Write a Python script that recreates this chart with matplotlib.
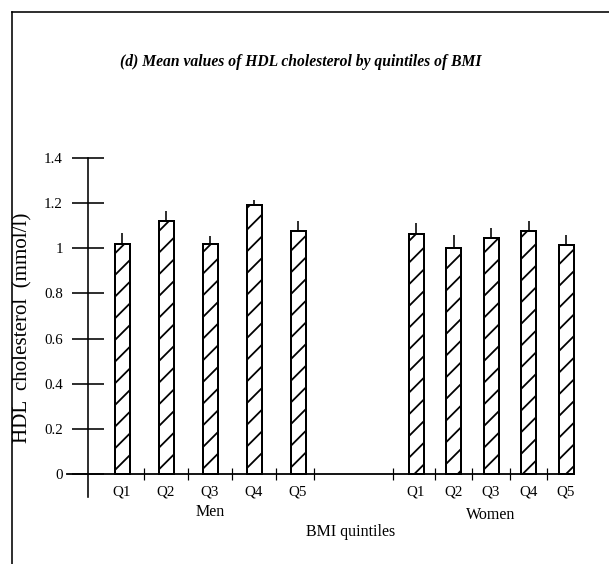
import matplotlib
matplotlib.use("Agg")
import matplotlib.pyplot as plt
from matplotlib.lines import Line2D
import numpy as np

# ---------------- data ----------------
quintiles = ["Q1", "Q2", "Q3", "Q4", "Q5"]
groups = ["Men", "Women"]
men_mean = [1.02, 1.12, 1.02, 1.19, 1.075]
men_err = [0.05, 0.045, 0.035, 0.025, 0.045]
women_mean = [1.065, 1.00, 1.045, 1.075, 1.015]
women_err = [0.045, 0.06, 0.045, 0.045, 0.045]
yticks = [0, 0.2, 0.4, 0.6, 0.8, 1.0, 1.2, 1.4]
ytick_labels = ["0", "0.2", "0.4", "0.6", "0.8", "1", "1.2", "1.4"]

# ---------------- layout ----------------
DPI = 130
W, H = 609, 564
def P(px):
    return px * 72.0 / DPI

plt.rcParams['font.family'] = ['Liberation Serif', 'DejaVu Serif']
plt.rcParams['hatch.linewidth'] = P(1.8)
plt.rcParams['hatch.color'] = 'black'

fig = plt.figure(figsize=(W / DPI, H / DPI), dpi=DPI)

# axes in pixel-like x units
ax_l, ax_r, ax_b, ax_t = 60, 585, 505, 150
y0_px, y_scale = 474.0, 225.7
ax = fig.add_axes([ax_l / W, 1 - ax_b / H, (ax_r - ax_l) / W, (ax_b - ax_t) / H])
ax.set_xlim(ax_l, ax_r)
ax.set_ylim(-(ax_b - y0_px) / y_scale, (y0_px - ax_t) / y_scale)
ax.patch.set_alpha(0)

men_start, men_step = 122.0, 44.0
women_start, women_step = 416.0, 37.5
bar_w = 15.0
men_x = men_start + men_step * np.arange(len(quintiles))
women_x = women_start + women_step * np.arange(len(quintiles))

for xs, means, errs in [(men_x, men_mean, men_err), (women_x, women_mean, women_err)]:
    ax.bar(xs, means, width=bar_w, color='white', edgecolor='black',
           linewidth=P(2.0), hatch='//', zorder=3)
    ax.errorbar(xs, means, yerr=[np.zeros(len(errs)), errs], fmt='none',
                ecolor='black', elinewidth=P(1.6), capsize=0, zorder=2)

# spines
for s in ['top', 'right']:
    ax.spines[s].set_visible(False)
ax.spines['left'].set_position(('data', 88))
ax.spines['left'].set_bounds(-23 / y_scale, 1.4)
ax.spines['left'].set_linewidth(P(1.6))
ax.spines['bottom'].set_position(('data', 0))
ax.spines['bottom'].set_bounds(67, 572)
ax.spines['bottom'].set_linewidth(P(1.8))

ax.set_yticks(yticks)
ax.set_yticklabels(ytick_labels, fontsize=P(15))
ax.tick_params(axis='y', direction='inout', length=P(32), width=P(1.6), pad=P(9))

men_mid = list((men_x[:-1] + men_x[1:]) / 2) + [men_x[-1] + 0.37 * men_step]
women_mid = [women_x[0] - 0.62 * women_step] + list((women_x[:-1] + women_x[1:]) / 2)
ax.set_xticks(men_mid + women_mid)
ax.set_xticklabels([])
ax.tick_params(axis='x', direction='inout', length=P(12), width=P(1.2))

# category labels
for xs in (men_x, women_x):
    for x, q in zip(xs, quintiles):
        ax.annotate(q, xy=(x, 0), xytext=(0, P(-18)), textcoords='offset points',
                    ha='center', va='center', fontsize=P(15))
ax.annotate(groups[0], xy=(men_x[2], 0), xytext=(0, P(-38)), textcoords='offset points',
            ha='center', va='center', fontsize=P(16))
ax.annotate(groups[1], xy=(women_x[2], 0), xytext=(0, P(-41)), textcoords='offset points',
            ha='center', va='center', fontsize=P(16))

fig.text(351 / W, 1 - 532 / H, "BMI quintiles", ha='center', va='center', fontsize=P(16))
fig.text(23 / W, 1 - 328 / H, "HDL  cholesterol  (mmol/l)", rotation=90,
         ha='center', va='center', fontsize=P(21))
fig.text(301 / W, 1 - 62 / H, "(d) Mean values of HDL cholesterol by quintiles of BMI",
         ha='center', va='center', fontsize=P(15.6), style='italic', weight='bold')

# frame lines
fig.add_artist(Line2D([12 / W, 1.0], [1 - 12 / H, 1 - 12 / H], color='black', linewidth=P(1.6)))
fig.add_artist(Line2D([12 / W, 12 / W], [1 - 12 / H, 0.0], color='black', linewidth=P(1.6)))

fig.savefig("out.png", dpi=DPI)
